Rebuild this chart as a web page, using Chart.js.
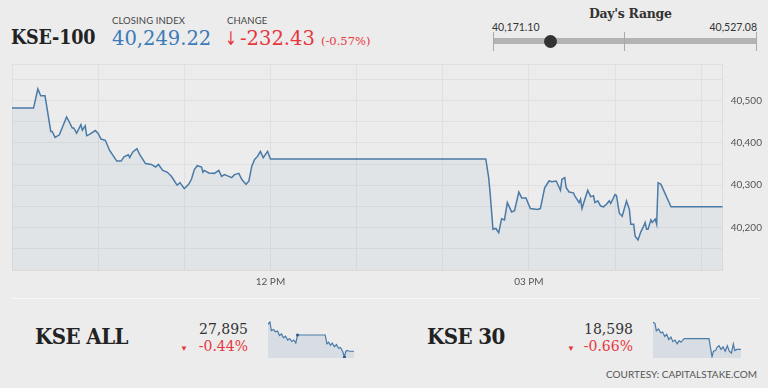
<!DOCTYPE html>
<html>
<head>
<meta charset="utf-8">
<script src="https://cdn.jsdelivr.net/npm/chart.js@4.4.0/dist/chart.umd.min.js"></script>
<style>
    html, body { margin: 0; padding: 0; }
    body {
        width: 768px; height: 388px; overflow: hidden;
        background: #ececec; position: relative;
        font-family: 'Lato', sans-serif; color: #333;
    }
    .abs { position: absolute; white-space: nowrap; }
    .serif { font-family: 'DejaVu Serif', serif; }
    .cap { font-size: 9.5px; color: #444; letter-spacing: 0.1px; }
    .red { color: #e8363d; }
    .narrow { transform: scaleX(0.9); transform-origin: left center; }
    #mainWrap { position: absolute; left: 0; top: 50px; width: 768px; height: 248px; }
    .sep { position: absolute; left: 11px; right: 8px; top: 298px; height: 1px; background: #f6f6f6; }
    .range-bar { position: absolute; left: 493px; width: 264px; top: 38px; height: 6px; background: #b3b3b3; }
    .range-tick { position: absolute; top: 32px; width: 1px; height: 19px; background: #aaa; }
    .range-dot { position: absolute; width: 13px; height: 13px; border-radius: 50%; background: #333; top: 35px; }
</style>
</head>
<body>

<!-- header -->
<div class="abs serif narrow" style="left:11px; top:26px; font-size:19.5px; font-weight:bold; color:#222; letter-spacing:-0.2px;">KSE-100</div>
<div class="abs cap" style="left:112px; top:15px;">CLOSING INDEX</div>
<div class="abs serif" id="closeTxt" style="left:112px; top:27px; font-size:19.5px; color:#3c7bba;"></div>
<div class="abs cap" style="left:227px; top:15px;">CHANGE</div>
<div class="abs red" style="left:225px; top:27px; font-size:19px; font-family:'DejaVu Sans', sans-serif; transform:scaleX(0.75); transform-origin:left center;">&#8595;</div>
<div class="abs serif red" id="chgTxt" style="left:240px; top:27px; font-size:19.5px;"></div>
<div class="abs serif red" id="pctTxt" style="left:321px; top:34px; font-size:11.5px;"></div>

<div class="abs serif" style="left:589px; top:6px; font-size:12.5px; font-weight:bold; color:#333; letter-spacing:-0.3px;">Day's Range</div>
<div class="abs" id="lowTxt" style="left:492px; top:21px; font-size:10.5px; color:#333;"></div>
<div class="abs" id="highTxt" style="right:11px; top:21px; font-size:10.5px; color:#333;"></div>
<div class="range-bar"></div>
<div class="range-tick" style="left:493px;"></div>
<div class="range-tick" style="left:624px;"></div>
<div class="range-tick" style="left:756px;"></div>
<div class="range-dot" id="rangeDot"></div>

<!-- main chart -->
<div id="mainWrap"><canvas id="mainChart"></canvas></div>
<div class="sep"></div>

<!-- bottom row -->
<div class="abs serif narrow" style="left:35px; top:323px; font-size:22px; font-weight:bold; color:#222; letter-spacing:-0.6px;">KSE ALL</div>
<div class="abs serif" id="allVal" style="right:520px; top:321px; font-size:14px; color:#333;"></div>
<div class="abs serif red" id="allPct" style="right:520px; top:338px; font-size:14px;"></div>
<div class="abs red" style="left:180px; top:343px; font-size:8px;">&#9660;</div>
<div class="abs" style="left:268px; top:321px; width:86px; height:37px;"><canvas id="allSpark"></canvas></div>

<div class="abs serif narrow" style="left:427px; top:323px; font-size:22px; font-weight:bold; color:#222; letter-spacing:-0.6px;">KSE 30</div>
<div class="abs serif" id="k30Val" style="right:135px; top:321px; font-size:14px; color:#333;"></div>
<div class="abs serif red" id="k30Pct" style="right:135px; top:338px; font-size:14px;"></div>
<div class="abs red" style="left:567px; top:343px; font-size:8px;">&#9660;</div>
<div class="abs" style="left:653px; top:321px; width:88px; height:37px;"><canvas id="k30Spark"></canvas></div>

<div class="abs" style="right:11px; top:368px; font-size:10px; color:#555;">COURTESY: CAPITALSTAKE.COM</div>

<script>
/* ============================================
   DATA
============================================ */
const closeIndex = 40249.22;
const change = -232.43;
const changePct = -0.57;
const dayLow = 40171.10;
const dayHigh = 40527.08;

const times = [
    '9:00', '9:15', '9:18', '9:20', '9:23', '9:27', '9:28', '9:30', '9:33', '9:38',
    '9:39', '9:42', '9:43', '9:45', '9:48', '9:49', '9:51', '9:52', '9:54', '9:58',
    '10:00', '10:02', '10:05', '10:08', '10:13', '10:16', '10:18', '10:21', '10:22', '10:24',
    '10:27', '10:29', '10:33', '10:37', '10:40', '10:42', '10:45', '10:48', '10:51', '10:55',
    '10:57', '11:00', '11:03', '11:05', '11:07', '11:09', '11:12', '11:13', '11:14', '11:17',
    '11:21', '11:24', '11:26', '11:28', '11:31', '11:33', '11:35', '11:38', '11:40', '11:43',
    '11:45', '11:47', '11:49', '11:51', '11:53', '11:55', '11:58', '12:00', '14:30', '14:32',
    '14:33', '14:35', '14:37', '14:39', '14:41', '14:43', '14:45', '14:48', '14:50', '14:53',
    '14:55', '14:58', '15:01', '15:06', '15:08', '15:11', '15:14', '15:16', '15:19', '15:20',
    '15:22', '15:23', '15:25', '15:26', '15:28', '15:31', '15:32', '15:35', '15:36', '15:37',
    '15:39', '15:41', '15:43', '15:45', '15:46', '15:48', '15:50', '15:52', '15:54', '15:56',
    '15:57', '16:00', '16:01', '16:03', '16:05', '16:08', '16:10', '16:11', '16:13', '16:14',
    '16:16', '16:18', '16:20', '16:21', '16:22', '16:23', '16:25', '16:26', '16:28', '16:29',
    '16:30', '16:32', '16:39', '17:15'
];
const values = [
    40482, 40482, 40527, 40511, 40511, 40427, 40427, 40413, 40419, 40461,
    40455, 40435, 40435, 40423, 40443, 40430, 40440, 40417, 40420, 40429,
    40422, 40409, 40406, 40382, 40357, 40357, 40367, 40372, 40365, 40378,
    40386, 40372, 40351, 40349, 40343, 40349, 40335, 40331, 40321, 40300,
    40306, 40292, 40302, 40314, 40337, 40346, 40343, 40331, 40335, 40329,
    40328, 40335, 40321, 40325, 40321, 40318, 40325, 40328, 40314, 40302,
    40310, 40345, 40361, 40368, 40380, 40365, 40380, 40362, 40362, 40318,
    40282, 40196, 40198, 40188, 40221, 40218, 40259, 40237, 40240, 40284,
    40270, 40270, 40245, 40243, 40245, 40294, 40310, 40308, 40310, 40303,
    40288, 40314, 40318, 40294, 40284, 40282, 40275, 40259, 40267, 40245,
    40267, 40288, 40273, 40275, 40259, 40263, 40251, 40249, 40255, 40263,
    40257, 40278, 40276, 40234, 40227, 40263, 40243, 40208, 40208, 40180,
    40171, 40190, 40204, 40212, 40196, 40196, 40218, 40212, 40220, 40208,
    40306, 40302, 40249.22, 40249.22
];
const xTickLabels = { '12:00': '12 PM', '15:00': '03 PM' };
const yTickLabels = [40200, 40300, 40400, 40500];

// KSE ALL sparkline
const allIndex = 27895;
const allPct = -0.44;
const allTimes = [
    '9:00', '9:11', '9:19', '9:31', '9:43', '9:55', '10:06', '10:18', '10:29', '10:41',
    '10:53', '11:05', '11:16', '11:28', '11:40', '11:50', '14:29', '14:39', '14:49', '14:59',
    '15:10', '15:22', '15:34', '15:46', '15:57', '16:09', '16:20', '16:28', '16:36', '16:48',
    '17:15'
];
const allValues = [
    28003, 28012, 27978, 27982, 27973, 27976, 27958, 27964, 27949, 27955,
    27940, 27946, 27934, 27940, 27928, 27960, 27960, 27925, 27931, 27919,
    27928, 27913, 27922, 27907, 27910, 27895, 27872, 27895, 27898, 27895,
    27895
];

// KSE 30 sparkline
const k30Index = 18598;
const k30Pct = -0.66;
const k30Times = [
    '9:00', '9:11', '9:19', '9:31', '9:43', '9:54', '10:06', '10:17', '10:29', '10:41',
    '10:52', '11:04', '11:16', '11:27', '11:38', '11:50', '11:58', '14:15', '14:25', '14:32',
    '14:40', '14:52', '14:59', '15:11', '15:23', '15:34', '15:46', '15:58', '16:09', '16:21',
    '16:32', '16:40', '16:52', '17:15'
];
const k30Values = [
    18686, 18682, 18658, 18664, 18652, 18654, 18640, 18647, 18630, 18638,
    18623, 18628, 18616, 18626, 18621, 18630, 18633, 18633, 18598, 18574,
    18592, 18594, 18604, 18610, 18598, 18606, 18592, 18610, 18592, 18586,
    18616, 18594, 18598, 18598
];

/* ============================================
   HELPERS
============================================ */
const toMin = t => {
    const [h, m] = t.split(':').map(Number);
    return h * 60 + m;
};
const fmt = (v, d) => v.toLocaleString('en-US', { minimumFractionDigits: d, maximumFractionDigits: d });
const points = (ts, vs) => ts.map((t, i) => ({ x: toMin(t), y: vs[i] }));

/* ============================================
   HEADER TEXT + DAY'S RANGE
============================================ */
function initHeader() {
    document.getElementById('closeTxt').textContent = fmt(closeIndex, 2);
    document.getElementById('chgTxt').textContent = '-' + fmt(Math.abs(change), 2);
    document.getElementById('pctTxt').textContent = '(' + changePct.toFixed(2) + '%)';
    document.getElementById('lowTxt').textContent = fmt(dayLow, 2);
    document.getElementById('highTxt').textContent = fmt(dayHigh, 2);

    const frac = (closeIndex - dayLow) / (dayHigh - dayLow);
    document.getElementById('rangeDot').style.left = (493 + frac * 264 - 6.5) + 'px';

    document.getElementById('allVal').textContent = fmt(allIndex, 0);
    document.getElementById('allPct').textContent = allPct.toFixed(2) + '%';
    document.getElementById('k30Val').textContent = fmt(k30Index, 0);
    document.getElementById('k30Pct').textContent = k30Pct.toFixed(2) + '%';
}

/* ============================================
   MAIN LINE CHART
============================================ */
function initMainChart() {
    const xMin = toMin('9:00'), xMax = toMin('17:15');
    const yMin = 40100, yMax = 40586;

    new Chart(document.getElementById('mainChart'), {
        type: 'line',
        data: {
            datasets: [{
                data: points(times, values),
                borderColor: '#4a7aa7',
                borderWidth: 1.5,
                backgroundColor: 'rgba(74,122,167,0.07)',
                fill: 'start',
                pointRadius: 0,
                tension: 0
            }]
        },
        options: {
            responsive: true,
            maintainAspectRatio: false,
            animation: false,
            layout: { padding: { left: 12, top: 0, right: 0, bottom: 0 } },
            plugins: { legend: { display: false }, tooltip: { enabled: false } },
            scales: {
                x: {
                    type: 'linear',
                    min: xMin,
                    max: xMax,
                    afterBuildTicks: s => {
                        const t = [];
                        for (let v = xMin; v <= xMax; v += 60) t.push({ value: v });
                        t.push({ value: xMax });
                        s.ticks = t;
                    },
                    afterFit: s => { s.height = 28; },
                    grid: { color: '#e0e0e0', drawTicks: false },
                    border: { color: '#dcdcdc' },
                    ticks: {
                        padding: 6,
                        maxRotation: 0,
                        autoSkip: false,
                        color: '#555',
                        font: { family: "'Lato', sans-serif", size: 10 },
                        callback: v => {
                            const key = Math.floor(v / 60) + ':' + String(v % 60).padStart(2, '0');
                            return xTickLabels[key] || '';
                        }
                    }
                },
                y: {
                    position: 'right',
                    min: yMin,
                    max: yMax,
                    afterBuildTicks: s => {
                        const t = [];
                        for (let v = yMin; v < yMax; v += 50) t.push({ value: v });
                        t.push({ value: yMax });
                        s.ticks = t;
                    },
                    afterFit: s => { s.width = 45.3; },
                    grid: { color: '#e0e0e0', drawTicks: false },
                    border: { color: '#dcdcdc' },
                    ticks: {
                        padding: 8,
                        autoSkip: false,
                        color: '#555',
                        font: { family: "'Lato', sans-serif", size: 10 },
                        callback: v => yTickLabels.includes(v) ? fmt(v, 0) : ''
                    }
                }
            }
        }
    });
}

/* ============================================
   SPARKLINES
============================================ */
function initSpark(id, ts, vs, yMin, yMax, dots) {
    new Chart(document.getElementById(id), {
        type: 'line',
        data: {
            datasets: [{
                data: points(ts, vs),
                borderColor: '#4a7aa7',
                borderWidth: 1.2,
                backgroundColor: 'rgba(74,122,167,0.13)',
                fill: 'start',
                pointRadius: ctx => dots.includes(ctx.dataIndex) ? 1.6 : 0,
                pointBackgroundColor: '#2f5f8c',
                pointBorderWidth: 0,
                tension: 0
            }]
        },
        options: {
            responsive: true,
            maintainAspectRatio: false,
            animation: false,
            layout: { padding: 0 },
            plugins: { legend: { display: false }, tooltip: { enabled: false } },
            scales: {
                x: { type: 'linear', display: false, min: toMin('9:00'), max: toMin('17:15') },
                y: { display: false, min: yMin, max: yMax }
            }
        }
    });
}

/* ============================================
   INIT
============================================ */
initHeader();
initMainChart();
initSpark('allSpark', allTimes, allValues, 27868, 28016, [15, 26]);
initSpark('k30Spark', k30Times, k30Values, 18570, 18690, []);
</script>
</body>
</html>
